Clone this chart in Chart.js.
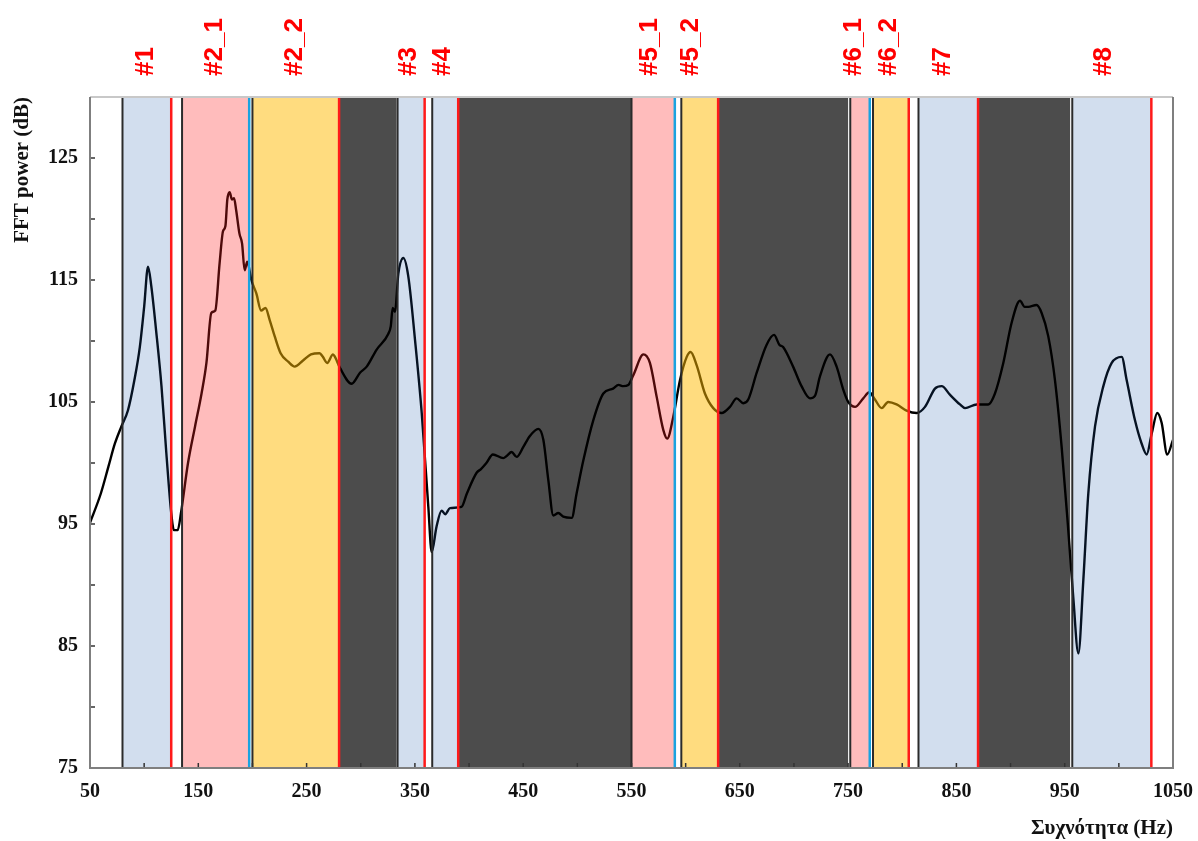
<!DOCTYPE html>
<html>
<head>
<meta charset="utf-8">
<script src="https://cdn.jsdelivr.net/npm/chart.js@4.4.1/dist/chart.umd.min.js"></script>
<style>
  html, body { margin: 0; padding: 0; background: #fff; }
  canvas { display: block; }
</style>
</head>
<body>
<canvas id="fftChart" width="1198" height="841"></canvas>
<script>
// FFT spectrum with shaded frequency bands

// curve (Hz / dB)
const freq = [50, 60, 67, 73, 79, 85, 91, 96, 100, 103.6, 106.6, 111, 116, 120.5, 125, 127.5, 131, 134,
  140.5, 147, 153, 157.5, 162, 165.7, 169.7, 172.8, 175, 176.8, 179, 181, 183, 185, 188, 190.4, 192.8,
  195.2, 199, 203.6, 208, 212, 216, 220.5, 226, 233, 239, 246.7, 254, 262, 265, 269, 274.4, 276.2, 280.8,
  291.6, 299.3, 305.5, 314.7, 325.5, 327.7, 329.5, 331.6, 334.7, 339.3, 343.9, 350.1, 356.3, 362.4, 365.5,
  370, 374.7, 378, 382.4, 393, 398, 407, 411, 416, 422, 431.6, 435, 439.3, 444, 450, 456, 464, 468.6,
  473.2, 477.8, 482.4, 487, 494.8, 499.3, 505.5, 514.7, 524, 533, 538, 542.4, 547, 551.7, 561, 567,
  573.3, 579.4, 583, 588.6, 594.8, 601, 604.6, 610.2, 617.8, 625.5, 633.3, 640.9, 647.1, 653.2, 657.8,
  665.6, 674.8, 681.6, 686.5, 690, 699.2, 707, 714.8, 719.4, 724, 733.3, 739.4, 745.6, 750.2, 756.4,
  764, 769.6, 774.8, 781, 787, 794.8, 804, 813.3, 821, 830.2, 836.4, 844, 853.3, 858, 868.7, 879.4,
  885.6, 893.3, 901, 908.7, 913, 916.4, 924, 928.7, 934.8, 941, 947.2, 953.3, 957.9, 962.6, 967.2,
  971.8, 978, 985.7, 993.4, 1002.6, 1007.2, 1014.9, 1021, 1025.7, 1030.3, 1035.5, 1039.5, 1044.7, 1050];
const power = [95.1, 97.5, 99.7, 101.6, 103.0, 104.3, 106.8, 109.5, 112.8, 116.1, 114.5, 110.9, 106.3, 100.8, 95.9, 94.5, 94.5, 95.9,
  100.0, 103.0, 105.7, 108.2, 112.3, 112.5, 116.4, 119.0, 119.4, 121.6, 122.2, 121.6, 121.7, 120.7, 118.8, 118.0, 115.8,
  116.5, 115.0, 113.9, 112.5, 112.7, 111.7, 110.4, 109.0, 108.3, 107.9, 108.4, 108.9, 109.0, 108.7, 108.2, 108.9, 108.7, 107.8,
  106.5, 107.4, 107.9, 109.3, 110.6, 111.2, 112.7, 112.4, 115.5, 116.8, 115.3, 110.1, 104.1, 96.4, 92.7,
  94.8, 96.1, 95.8, 96.3, 96.4, 97.5, 99.2, 99.5, 100.0, 100.7, 100.4, 100.6, 100.9, 100.5, 101.3, 102.2, 102.8, 101.9,
  98.6, 95.7, 95.9, 95.6, 95.5, 97.5, 100.2, 103.5, 105.7, 106.1, 106.4, 106.3, 106.4, 107.2, 108.9, 108.2,
  105.4, 102.7, 102.0, 103.8, 106.8, 108.7, 109.1, 108.0, 105.7, 104.5, 104.1, 104.6, 105.3, 104.9, 105.2,
  107.4, 109.7, 110.5, 109.7, 109.5, 107.9, 106.3, 105.3, 105.5, 107.1, 108.9, 107.9, 106.0, 105.0, 104.6,
  105.3, 105.8, 105.2, 104.5, 105.0, 104.8, 104.3, 104.1, 104.6, 106.1, 106.3, 105.6, 104.8, 104.5, 104.8, 104.8,
  105.7, 108.2, 111.5, 113.3, 112.8, 112.8, 112.95, 112.3, 110.4, 106.8, 101.3, 94.5, 89.0, 84.4, 90.4,
  97.5, 103.0, 106.3, 108.2, 108.7, 106.8, 103.5, 101.6, 100.7, 102.4, 104.1, 103.3, 100.7, 101.9];

// shaded bands (Hz)
const bandStart = [80, 135, 200, 280, 334, 366, 390, 550, 596, 630, 752, 773, 815, 870, 957];
const bandEnd   = [125, 197, 280, 333, 359, 390, 550, 590, 630, 750, 770, 806, 870, 955, 1030];
const bandKind  = ['blue', 'pink', 'yellow', 'dark', 'blue', 'blue', 'dark', 'pink', 'yellow', 'dark',
  'pink', 'yellow', 'blue', 'dark', 'blue'];

// band labels on top
const labelText = ['#1', '#2_1', '#2_2', '#3', '#4', '#5_1', '#5_2', '#6_1', '#6_2', '#7', '#8'];
const labelFreq = [102, 165.5, 239, 344, 376, 567, 605, 755, 788, 837.5, 986.5];

// overlay colours, drawn over the curve so it tints like the original
const bandFill = {
  blue: 'rgba(30,90,170,0.2)',
  pink: 'rgba(255,32,32,0.3)',
  yellow: 'rgba(255,185,0,0.5)',
  dark: 'rgba(0,0,0,0.7)'
};
const endLine = { blue: '#ff1a1a', pink: '#1aa3e0', yellow: '#ff1a1a' };

const serif = '"Liberation Serif", "Times New Roman", serif';

const bandsPlugin = {
  id: 'bands',
  afterDatasetsDraw(chart) {
    const { ctx, chartArea: a, scales: { x } } = chart;
    ctx.save();
    const vline = (px, color, w) => {
      ctx.strokeStyle = color;
      ctx.lineWidth = w;
      ctx.beginPath();
      ctx.moveTo(px, a.top);
      ctx.lineTo(px, a.bottom);
      ctx.stroke();
    };
    // fills first, then the edge lines on top
    bandStart.forEach((s, i) => {
      const x0 = x.getPixelForValue(s);
      const x1 = x.getPixelForValue(bandEnd[i]);
      ctx.fillStyle = bandFill[bandKind[i]];
      ctx.fillRect(x0, a.top, x1 - x0, a.bottom - a.top);
    });
    bandStart.forEach((s, i) => {
      const kind = bandKind[i];
      if (kind === 'dark') return;
      vline(x.getPixelForValue(s), '#2b2b2b', 2);
      vline(x.getPixelForValue(bandEnd[i]), endLine[kind], 2.5);
    });
    ctx.restore();
  },
  afterDraw(chart) {
    const { ctx, chartArea: a, scales: { x, y } } = chart;
    ctx.save();
    // inward tick marks
    ctx.strokeStyle = '#333';
    ctx.lineWidth = 1.5;
    x.ticks.forEach(t => {
      const px = x.getPixelForValue(t.value);
      ctx.beginPath();
      ctx.moveTo(px, a.bottom);
      ctx.lineTo(px, a.bottom - 5);
      ctx.stroke();
    });
    y.ticks.forEach(t => {
      const py = y.getPixelForValue(t.value);
      ctx.beginPath();
      ctx.moveTo(a.left, py);
      ctx.lineTo(a.left + 5, py);
      ctx.stroke();
    });
    // frame
    ctx.lineWidth = 2;
    ctx.strokeStyle = '#c8c8c8';
    ctx.beginPath();
    ctx.moveTo(a.left, a.top);
    ctx.lineTo(a.right, a.top);
    ctx.stroke();
    ctx.strokeStyle = '#7f7f7f';
    ctx.beginPath();
    ctx.moveTo(a.left, a.top);
    ctx.lineTo(a.left, a.bottom);
    ctx.lineTo(a.right, a.bottom);
    ctx.lineTo(a.right, a.top);
    ctx.stroke();
    // rotated band labels
    ctx.fillStyle = '#ff0000';
    ctx.font = 'bold 26px "Liberation Sans", Arial, sans-serif';
    ctx.textAlign = 'left';
    ctx.textBaseline = 'middle';
    labelText.forEach((txt, i) => {
      ctx.save();
      ctx.translate(x.getPixelForValue(labelFreq[i]), 76);
      ctx.rotate(-Math.PI / 2);
      ctx.fillText(txt, 0, 0);
      ctx.restore();
    });
    ctx.restore();
  }
};

new Chart(document.getElementById('fftChart').getContext('2d'), {
  type: 'line',
  data: {
    datasets: [{
      data: freq.map((f, i) => ({ x: f, y: power[i] })),
      borderColor: '#000',
      borderWidth: 2.4,
      pointRadius: 0,
      cubicInterpolationMode: 'monotone',
      fill: false
    }]
  },
  options: {
    responsive: false,
    animation: false,
    layout: { padding: { top: 97, right: 25, left: 0, bottom: 0 } },
    plugins: { legend: { display: false }, tooltip: { enabled: false } },
    scales: {
      x: {
        type: 'linear',
        min: 50,
        max: 1050,
        afterFit(scale) {
          scale.height = 73;
          scale.paddingLeft = 0;
          scale.paddingRight = 0;
        },
        grid: { display: false, drawTicks: false },
        border: { display: false },
        ticks: {
          stepSize: 50,
          autoSkip: false,
          maxRotation: 0,
          padding: 12,
          color: '#111',
          font: { family: serif, weight: 'bold', size: 20 },
          callback: v => ((v - 50) % 100 === 0 ? v : '')
        },
        title: {
          display: true,
          text: 'Συχνότητα (Hz)',
          align: 'end',
          color: '#111',
          font: { family: serif, weight: 'bold', size: 21 },
          padding: { top: 0, bottom: 0 }
        }
      },
      y: {
        min: 75,
        max: 130,
        afterFit(scale) { scale.width = 90; },
        grid: { display: false, drawTicks: false },
        border: { display: false },
        ticks: {
          stepSize: 5,
          autoSkip: false,
          padding: 12,
          color: '#111',
          font: { family: serif, weight: 'bold', size: 20 },
          callback: v => ((v - 75) % 10 === 0 && v <= 125 ? v : '')
        },
        title: {
          display: true,
          text: 'FFT power (dB)',
          align: 'end',
          color: '#111',
          font: { family: serif, weight: 'bold', size: 21 },
          padding: { top: 10, bottom: 0 }
        }
      }
    }
  },
  plugins: [bandsPlugin]
});
</script>
</body>
</html>
